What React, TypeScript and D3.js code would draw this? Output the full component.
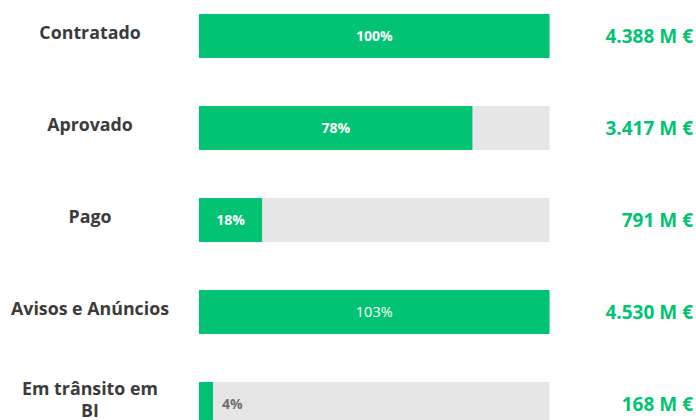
import React from "react";
import * as d3 from "d3";

const categories = ["Contratado", "Aprovado", "Pago", "Avisos e Anúncios", "Em trânsito em BI"];
const labelLines = [["Contratado"], ["Aprovado"], ["Pago"], ["Avisos e Anúncios"], ["Em trânsito em", "BI"]];
const percents = [1.0, 0.78, 0.18, 1.03, 0.04];
const valuesMillions = [4388, 3417, 791, 4530, 168];

const W = 696;
const H = 420;
const GREEN = "#01C373";
const TRACK = "#E6E6E6";
const LABEL = "#3B3B3B";
const FONT = "'Open Sans', 'Noto Sans', sans-serif";

const locale = d3.formatLocale({ decimal: ",", thousands: ".", grouping: [3], currency: ["", " €"] });
const fmtNum = locale.format(",d");
const fmtPct = d3.format(".0%");

export default function App() {
  const y = d3
    .scaleBand<string>()
    .domain(categories)
    .range([14, 426])
    .paddingInner(48 / 92)
    .paddingOuter(0);
  const x = d3.scaleLinear().domain([0, 1]).range([199, 549.5]).clamp(true);
  const bw = y.bandwidth();

  return (
    <svg
      width={W}
      height={H}
      style={{ position: "absolute", left: 0, top: 0, display: "block", background: "#fff" }}
      fontFamily={FONT}
    >
      {categories.map((c, i) => {
        const y0 = y(c)!;
        const cy = y0 + bw / 2;
        const p = percents[i];
        const fillEnd = x(p);
        const fillW = fillEnd - x(0);
        const inside = fillW > 50;
        const lines = labelLines[i];
        return (
          <g key={c}>
            <rect x={x(0)} y={y0} width={x(1) - x(0)} height={bw} fill={TRACK} />
            <rect x={x(0)} y={y0} width={fillW} height={bw} fill={GREEN} />
            {inside ? (
              <text
                x={x(0) + fillW / 2}
                y={cy}
                dy="0.35em"
                textAnchor="middle"
                fill="#fff"
                fontSize={p > 1 ? 14.5 : 14}
                fontWeight={p > 1 ? 400 : 700}
              >
                {fmtPct(p)}
              </text>
            ) : (
              <text x={fillEnd + 9} y={cy} dy="0.35em" textAnchor="start" fill="#707070" fontSize={14} fontWeight={700}>
                {fmtPct(p)}
              </text>
            )}
            {lines.map((ln, k) => (
              <text
                key={k}
                x={90}
                y={lines.length === 1 ? cy - 3 : cy - 15 + k * 22}
                dy="0.35em"
                textAnchor="middle"
                fill={LABEL}
                fontSize={17.8}
                fontWeight={700}
              >
                {ln}
              </text>
            ))}
            <text
              x={693}
              y={cy}
              dy="0.35em"
              textAnchor="end"
              fill={GREEN}
              fontSize={19}
              fontWeight={700}
            >
              {fmtNum(valuesMillions[i]) + " M €"}
            </text>
          </g>
        );
      })}
    </svg>
  );
}
